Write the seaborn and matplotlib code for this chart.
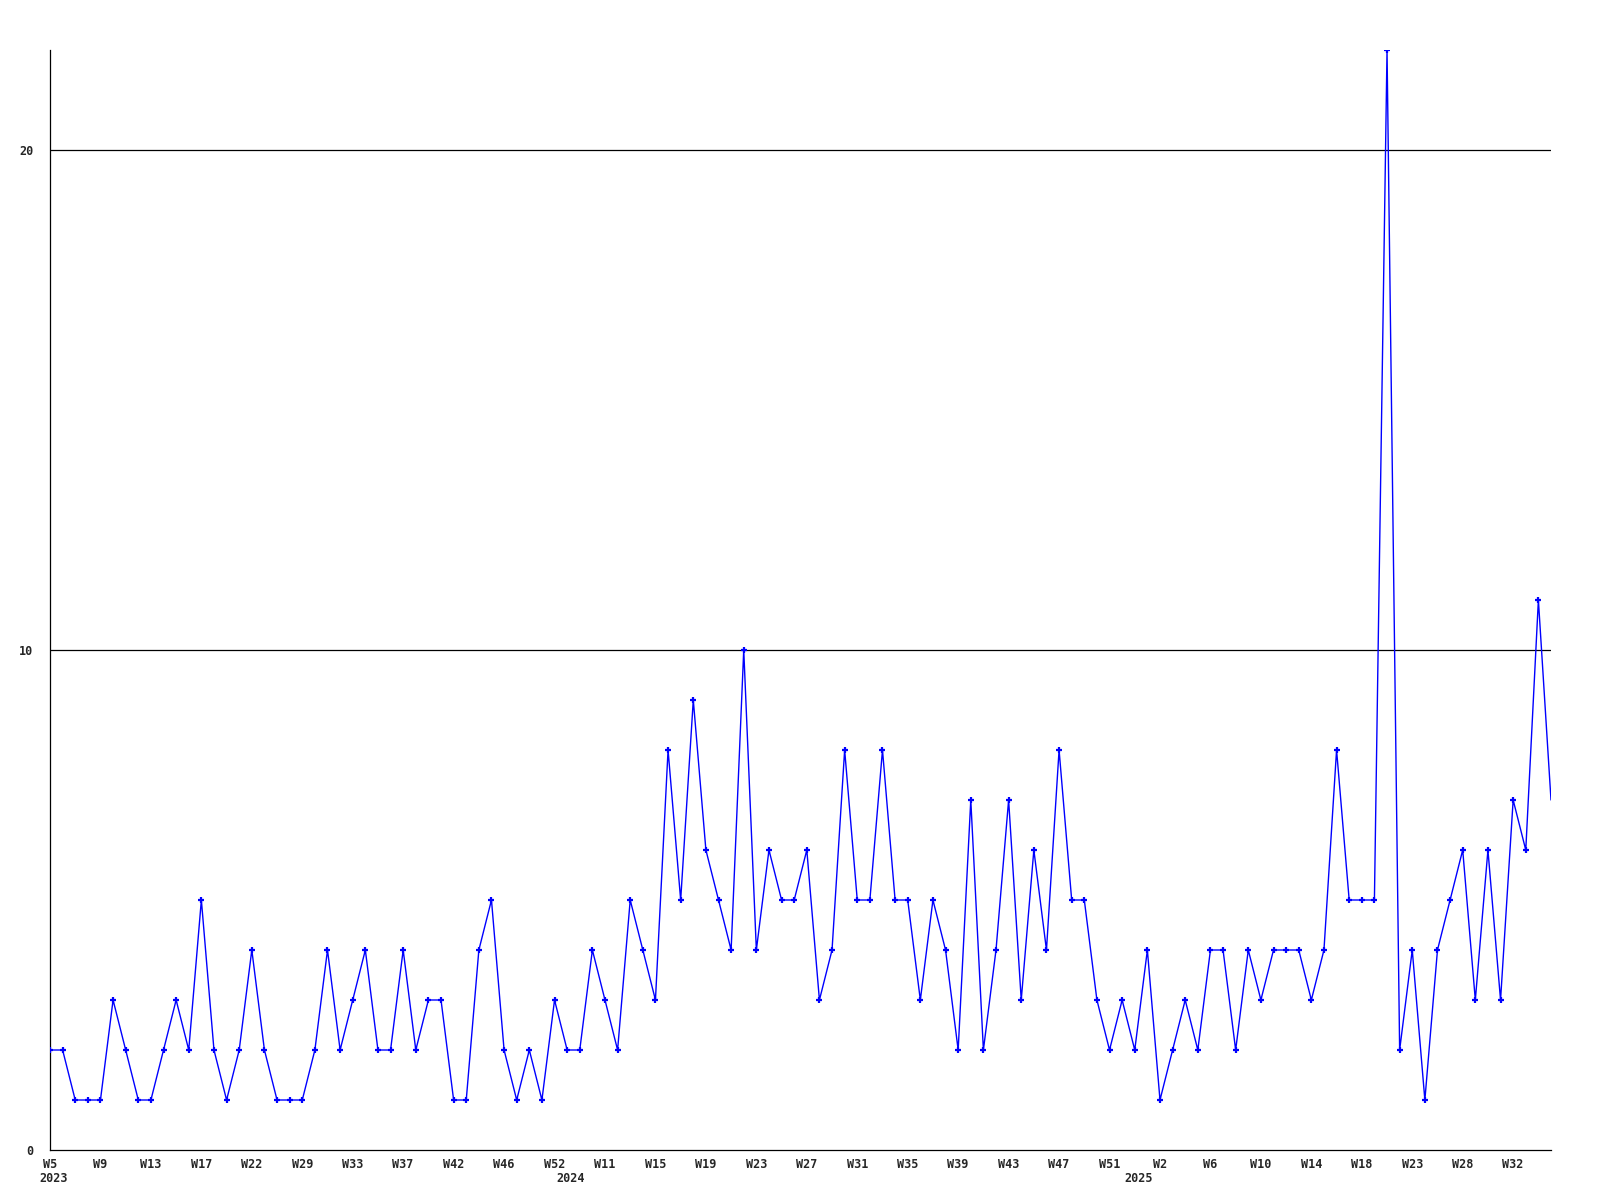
import matplotlib
matplotlib.use("Agg")
import matplotlib.pyplot as plt
import seaborn as sns
import pandas as pd

values = [2, 2, 1, 1, 1, 3, 2, 1, 1, 2,
          3, 2, 5, 2, 1, 2, 4, 2, 1, 1,
          1, 2, 4, 2, 3, 4, 2, 2, 4, 2,
          3, 3, 1, 1, 4, 5, 2, 1, 2, 1,
          3, 2, 2, 4, 3, 2, 5, 4, 3, 8,
          5, 9, 6, 5, 4, 10, 4, 6, 5, 5,
          6, 3, 4, 8, 5, 5, 8, 5, 5, 3,
          5, 4, 2, 7, 2, 4, 7, 3, 6, 4,
          8, 5, 5, 3, 2, 3, 2, 4, 1, 2,
          3, 2, 4, 4, 2, 4, 3, 4, 4, 4,
          3, 4, 8, 5, 5, 5, 22, 2, 4, 1,
          4, 5, 6, 3, 6, 3, 7, 6, 11, 7]

week_labels = ["W5", "W9", "W13", "W17", "W22", "W29", "W33", "W37", "W42", "W46",
               "W52", "W11", "W15", "W19", "W23", "W27", "W31", "W35", "W39", "W43",
               "W47", "W51", "W2", "W6", "W10", "W14", "W18", "W23", "W28", "W32"]
label_step = 4
year_labels = ["2023", "2024", "2025"]
year_positions = [0, 41, 86]
y_ticks = [0, 10, 20]

sns.set_style("white")
plt.rcParams['font.family'] = ['DejaVu Sans Mono', 'DejaVu Sans']

df = pd.DataFrame({"idx": list(range(len(values))), "value": values})

fig = plt.figure(figsize=(16, 12), dpi=100)
ax = fig.add_axes([50/1600, 1 - 1150/1200, (1551 - 50)/1600, 1100/1200])

for yv in y_ticks[1:]:
    ax.axhline(yv, color="black", lw=0.9, zorder=1)

sns.lineplot(data=df, x="idx", y="value", ax=ax, color="#0000ff", lw=1.0,
             marker="+", markersize=5, markeredgewidth=1.6,
             markeredgecolor="#0000ff", markerfacecolor="#0000ff",
             markevery=list(range(len(values) - 1)), zorder=3)

ax.set_xlim(0, len(values) - 1)
ax.set_ylim(0, 22)
ax.set_xlabel("")
ax.set_ylabel("")

tick_pos = list(range(0, len(values), label_step))[:len(week_labels)]
ax.set_xticks(tick_pos)
ax.set_xticklabels(week_labels, fontsize=8.5, fontweight="bold")
ax.set_yticks(y_ticks)
ax.set_yticklabels([str(v) for v in y_ticks], fontsize=8.5, fontweight="bold")
ax.tick_params(axis="x", length=0, pad=5.5)
ax.tick_params(axis="y", length=0, pad=12)

for pos, lab in zip(year_positions, year_labels):
    ax.annotate(lab, xy=(pos, 0), xycoords=("data", "axes fraction"),
                xytext=(-7.5, -15.5), textcoords="offset points",
                ha="left", va="top", fontsize=8.5, fontweight="bold")

for side in ["top", "right"]:
    ax.spines[side].set_visible(False)
for side in ["left", "bottom"]:
    ax.spines[side].set_color("black")
    ax.spines[side].set_linewidth(0.9)
ax.grid(False)

fig.savefig("out.png", dpi=100, facecolor="white")
